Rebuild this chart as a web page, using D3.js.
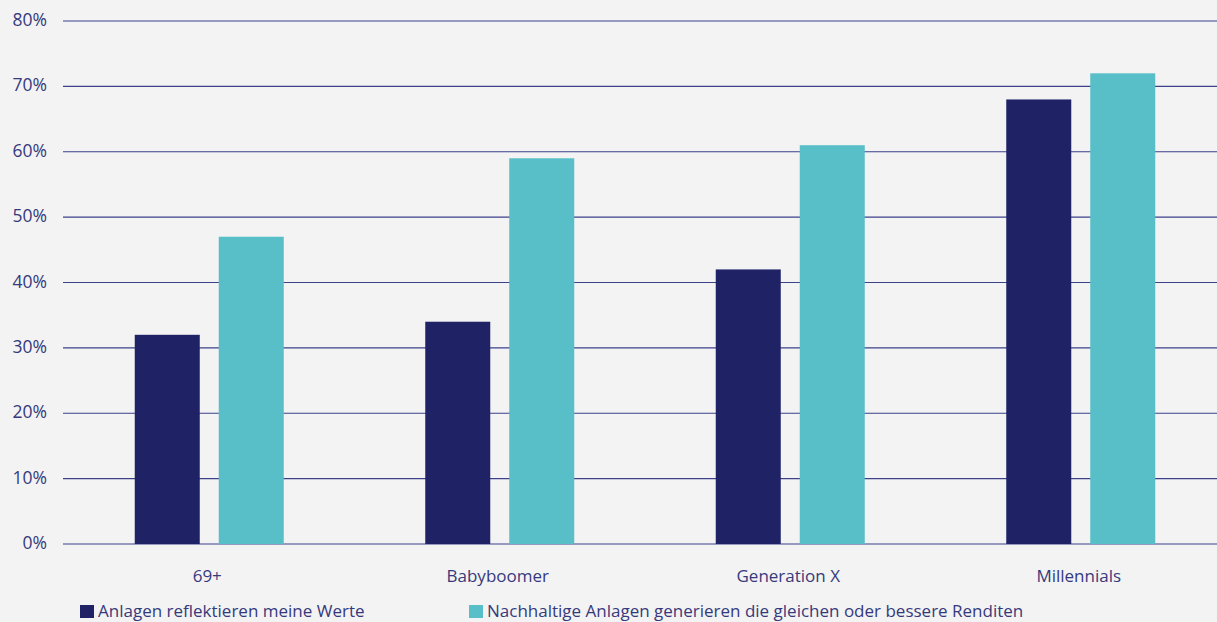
<!DOCTYPE html>
<html>
<head>
<meta charset="utf-8">
<script src="https://cdn.jsdelivr.net/npm/d3@7"></script>
<style>
  body { margin: 0; background: #f3f3f3; }
  svg { display: block; }
</style>
</head>
<body>
<svg width="1217" height="622"></svg>
<script>
//Data
const categories = ["69+", "Babyboomer", "Generation X", "Millennials"];
const seriesNames = [
    "Anlagen reflektieren meine Werte",
    "Nachhaltige Anlagen generieren die gleichen oder bessere Renditen"
];
const valuesWerte = [32, 34, 42, 68];
const valuesRenditen = [47, 59, 61, 72];
const yTicks = [0, 10, 20, 30, 40, 50, 60, 70, 80];

buildGraph();

function buildGraph()
{
    //Variables
    const colors = ["#1f2366", "#58bfc9"];
    const textColor = "#363a7c";
    const gridColor = "#3d418a";
    const font = "'Open Sans', sans-serif";

    const rows = categories.map((c, i) => ({cat: c, vals: [valuesWerte[i], valuesRenditen[i]]}));

    let svg = d3.select("svg");

    //Scales
    let xscale = d3.scaleBand().domain(categories).range([64, 1226]);
    let inner = d3.scaleBand().domain([0, 1]).range([-74.5, 74.5]).paddingInner(0.226);
    let yscale = d3.scaleLinear().domain([0, 80]).range([544, 21]);

    //Gridlines
    svg.append("g")
        .selectAll("line")
        .data(yTicks)
        .enter().append("line")
        .attr("x1", 63)
        .attr("x2", 1217)
        .attr("y1", d => yscale(d))
        .attr("y2", d => yscale(d))
        .attr("stroke", gridColor)
        .attr("stroke-width", 1.2);

    //Y labels
    svg.append("g")
        .selectAll("text")
        .data(yTicks)
        .enter().append("text")
        .attr("x", 47)
        .attr("y", d => yscale(d) + 5)
        .attr("text-anchor", "end")
        .attr("font-family", font)
        .attr("font-size", 17.5)
        .attr("fill", textColor)
        .text(d => d + "%");

    //Bars
    let groups = svg.append("g")
        .selectAll("g")
        .data(rows)
        .enter().append("g")
        .attr("transform", d => "translate(" + (xscale(d.cat) + xscale.bandwidth() / 2) + ",0)");

    groups.selectAll("rect")
        .data(d => d.vals)
        .enter().append("rect")
        .attr("x", (d, i) => inner(i))
        .attr("width", inner.bandwidth())
        .attr("y", d => yscale(d))
        .attr("height", d => yscale(0) - yscale(d))
        .attr("fill", (d, i) => colors[i]);

    //X labels
    svg.append("g")
        .selectAll("text")
        .data(categories)
        .enter().append("text")
        .attr("x", d => xscale(d) + xscale.bandwidth() / 2 - 2)
        .attr("y", 582)
        .attr("text-anchor", "middle")
        .attr("font-family", font)
        .attr("font-size", 17)
        .attr("fill", textColor)
        .text(d => d);

    //Legend
    const legendX = [80, 469];
    let legend = svg.append("g")
        .selectAll("g")
        .data(seriesNames)
        .enter().append("g")
        .attr("transform", (d, i) => "translate(" + legendX[i] + ",605)");

    legend.append("rect")
        .attr("width", 14)
        .attr("height", 13)
        .attr("fill", (d, i) => colors[i]);

    legend.append("text")
        .attr("x", 18)
        .attr("y", 12)
        .attr("font-family", font)
        .attr("font-size", 17)
        .attr("fill", textColor)
        .text(d => d);
}
</script>
</body>
</html>
